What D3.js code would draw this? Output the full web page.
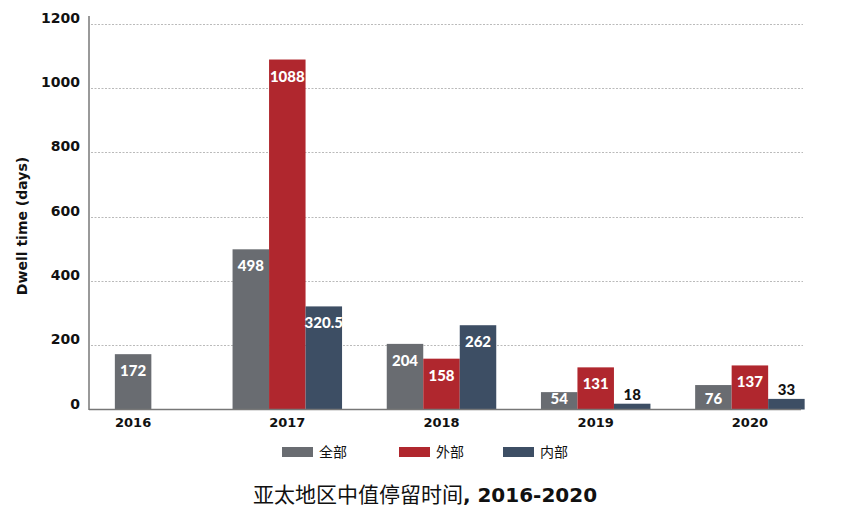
<!DOCTYPE html>
<html>
<head>
<meta charset="utf-8">
<script src="https://cdn.jsdelivr.net/npm/d3@7"></script>
<style>
  body { margin: 0; background: #fff; }
  svg { display: block; }
</style>
</head>
<body>
<div id="chart"></div>
<script>
var width = 845,
    height = 516;

// data
var years = ["2016", "2017", "2018", "2019", "2020"];
var seriesNames = ["全部", "外部", "内部"];
var allValues = [172, 498, 204, 54, 76];
var externalValues = [null, 1088, 158, 131, 137];
var internalValues = [null, 320.5, 262, 18, 33];
var labelTexts = {
  "全部": ["172", "498", "204", "54", "76"],
  "外部": [null, "1088", "158", "131", "137"],
  "内部": [null, "320.5", "262", "18", "33"]
};
var yTicks = [0, 200, 400, 600, 800, 1000, 1200];

var colors = {"全部": "#696c71", "外部": "#b0272e", "内部": "#3d4e64"};
var seriesValues = {"全部": allValues, "外部": externalValues, "内部": internalValues};

var wideFont = "'DejaVu Sans', Verdana, sans-serif";
var labelFont = "Lato, 'DejaVu Sans', sans-serif";
var cjkFont = "'Noto Sans CJK SC', sans-serif";

var left = 89;

var svg = d3.select("#chart").append("svg")
  .attr("width", width)
  .attr("height", height);

var x = d3.scaleBand()
  .domain(years)
  .range([56, 827]);

var y = d3.scaleLinear()
  .domain([0, 1200])
  .range([409.5, 23.5]);

var barW = 36.5;

// gridlines
svg.append("g").selectAll("line")
  .data(yTicks.filter(function(d) { return d > 0; }))
  .enter().append("line")
  .attr("x1", left + 2)
  .attr("x2", 803)
  .attr("y1", function(d) { return Math.round(y(d)) + 0.5; })
  .attr("y2", function(d) { return Math.round(y(d)) + 0.5; })
  .attr("stroke", "#a8a8a8")
  .attr("stroke-width", 0.8)
  .attr("stroke-dasharray", "2,1.5");

// y axis
var yAxis = d3.axisLeft(y)
  .tickValues(yTicks)
  .tickFormat(d3.format("d"))
  .tickSize(0)
  .tickPadding(9);

var gy = svg.append("g")
  .attr("transform", "translate(" + left + ",0)")
  .call(yAxis);
gy.select(".domain").remove();
gy.selectAll("text")
  .attr("dy", "-0.1em")
  .style("font-family", wideFont)
  .style("font-weight", "700")
  .style("font-size", "14px")
  .attr("fill", "#111");

svg.append("line")
  .attr("x1", left).attr("x2", left)
  .attr("y1", 16).attr("y2", 410)
  .attr("stroke", "#777")
  .attr("stroke-width", 1.5);

// bars
var bars = [];
years.forEach(function(yr, i) {
  var present = seriesNames.filter(function(s) { return seriesValues[s][i] != null; });
  present.forEach(function(s, j) {
    var cx = x(yr) + x.bandwidth() / 2 + (j - (present.length - 1) / 2) * barW;
    bars.push({year: yr, series: s, value: seriesValues[s][i], label: labelTexts[s][i], cx: cx});
  });
});

svg.append("g").selectAll("rect")
  .data(bars)
  .enter().append("rect")
  .attr("x", function(d) { return d.cx - barW / 2; })
  .attr("width", barW)
  .attr("y", function(d) { return y(d.value); })
  .attr("height", function(d) { return y(0) - y(d.value); })
  .attr("fill", function(d) { return colors[d.series]; });

// value labels: inside the bar, above it only for the tiny ones
function outside(d) { return d.value < 50; }

svg.append("g").selectAll("text")
  .data(bars)
  .enter().append("text")
  .attr("x", function(d) { return d.cx; })
  .attr("y", function(d) {
    return outside(d) ? y(d.value) - 4 : Math.min(y(d.value) + 22, 404);
  })
  .attr("text-anchor", "middle")
  .style("font-family", labelFont)
  .style("font-weight", "900")
  .style("font-size", "15px")
  .attr("fill", function(d) { return outside(d) ? "#111" : "#fff"; })
  .text(function(d) { return d.label; });

// x axis
svg.append("line")
  .attr("x1", left).attr("x2", 801)
  .attr("y1", 409.5).attr("y2", 409.5)
  .attr("stroke", "#777")
  .attr("stroke-width", 1.5);

var xAxis = d3.axisBottom(x).tickSize(0).tickPadding(8);
var gx = svg.append("g")
  .attr("transform", "translate(0,410)")
  .call(xAxis);
gx.select(".domain").remove();
gx.selectAll("text")
  .style("font-family", wideFont)
  .style("font-weight", "700")
  .style("font-size", "13px")
  .attr("fill", "#111");

// y axis title
svg.append("text")
  .attr("transform", "translate(27,226) rotate(-90)")
  .attr("text-anchor", "middle")
  .style("font-family", wideFont)
  .style("font-weight", "600")
  .style("font-size", "14px")
  .attr("fill", "#111")
  .text("Dwell time (days)");

// legend
var legendX = [282, 399, 503];
var legend = svg.append("g").selectAll("g")
  .data(seriesNames)
  .enter().append("g")
  .attr("transform", function(d, i) { return "translate(" + legendX[i] + ",447)"; });
legend.append("rect")
  .attr("width", 31)
  .attr("height", 10)
  .attr("fill", function(d) { return colors[d]; });
legend.append("text")
  .attr("x", 37)
  .attr("y", 10)
  .style("font-family", cjkFont)
  .style("font-size", "14px")
  .attr("fill", "#111")
  .text(function(d) { return d; });

// title
var title = svg.append("text")
  .attr("x", 425)
  .attr("y", 502)
  .attr("text-anchor", "middle")
  .attr("fill", "#111");
title.append("tspan")
  .style("font-family", cjkFont)
  .style("font-size", "21px")
  .text("亚太地区中值停留时间");
title.append("tspan")
  .style("font-family", wideFont)
  .style("font-weight", "700")
  .style("font-size", "20px")
  .text(", 2016-2020");
</script>
</body>
</html>
